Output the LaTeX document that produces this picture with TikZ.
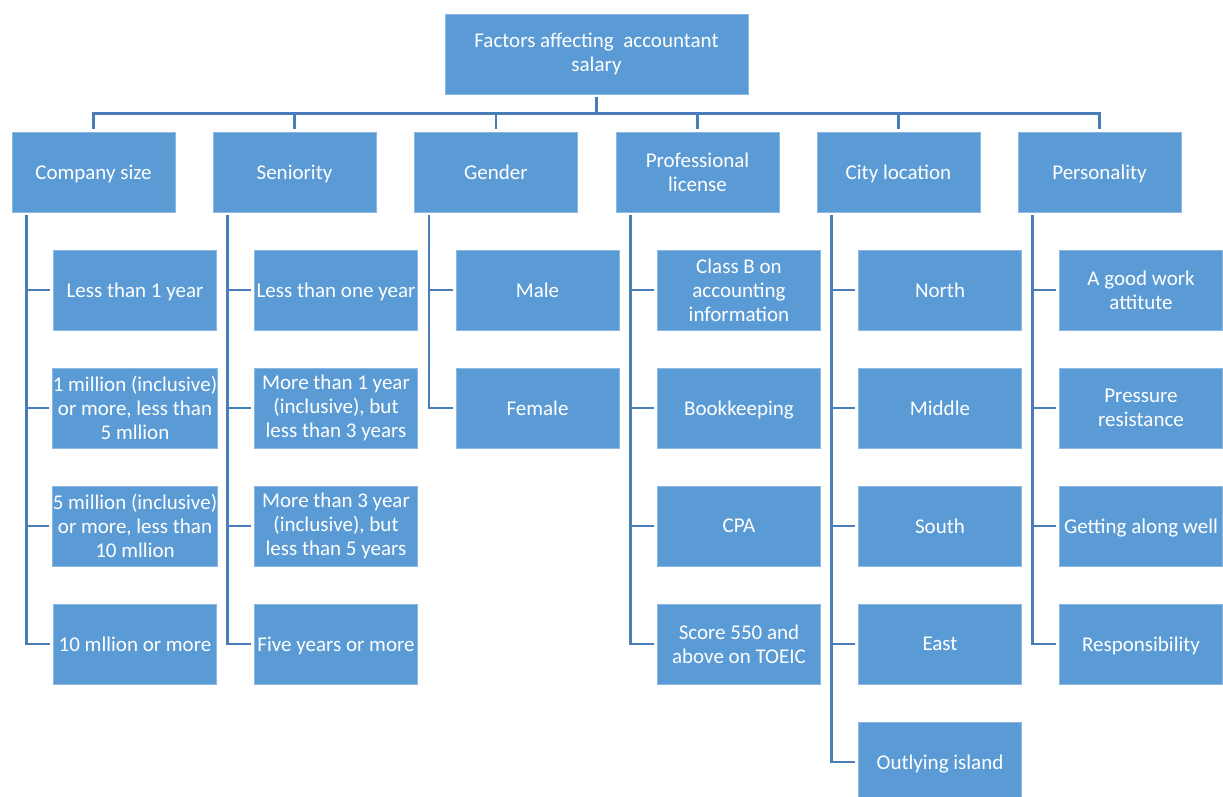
\documentclass[tikz,border=0pt]{standalone}
\usepackage{fontspec}
\setmainfont{Carlito}
\definecolor{boxfill}{HTML}{5B9BD5}
\definecolor{boxline}{HTML}{8DB8E2}
\definecolor{connc}{HTML}{4A7EBB}
\begin{document}
\begin{tikzpicture}[x=1pt,y=-1pt,
  box/.style={rectangle,fill=boxfill,draw=boxline,line width=0.8pt,minimum width=163pt,minimum height=80pt,inner sep=0pt,align=center,text=white,font=\fontsize{21}{24}\selectfont},
  one/.style={box,text depth=0pt},
  conn/.style={draw=connc,line width=2.6pt}]
\useasboundingbox (0,0) rectangle (1223,796);
\node[box,minimum width=303pt] (root) at (596.5,54) {Factors affecting\ \ accountant\\salary};
% level 1
\node[one] (c1) at (93.5,172) {Company size};
\node[one] (c2) at (294.5,172) {Seniority};
\node[one] (c3) at (496,172) {Gender};
\node[box] (c4) at (697.5,172) {Professional\\license};
\node[one] (c5) at (898.5,172) {City location};
\node[one] (c6) at (1099.5,172) {Personality};
% company size
\node[one] (c1a) at (135,290) {Less than 1 year};
\node[box] (c1b) at (135,408) {1 million (inclusive)\\or more, less than\\5 mllion};
\node[box] (c1c) at (135,526) {5 million (inclusive)\\or more, less than\\10 mllion};
\node[one] (c1d) at (135,644) {10 mllion or more};
% seniority
\node[one] (c2a) at (336,290) {Less than one year};
\node[box] (c2b) at (336,408) {More than 1 year\\(inclusive), but\\less than 3 years};
\node[box] (c2c) at (336,526) {More than 3 year\\(inclusive), but\\less than 5 years};
\node[one] (c2d) at (336,644) {Five years or more};
% gender
\node[one] (c3a) at (537.5,290) {Male};
\node[one] (c3b) at (537.5,408) {Female};
% professional license
\node[box] (c4a) at (739,290) {Class B on\\accounting\\information};
\node[one] (c4b) at (739,408) {Bookkeeping};
\node[one] (c4c) at (739,526) {CPA};
\node[box] (c4d) at (739,644) {Score 550 and\\above on TOEIC};
% city
\node[one] (c5a) at (940,290) {North};
\node[one] (c5b) at (940,408) {Middle};
\node[one] (c5c) at (940,526) {South};
\node[one] (c5d) at (940,644) {East};
\node[one] (c5e) at (940,762) {Outlying island};
% personality
\node[box] (c6a) at (1141,290) {A good work\\attitute};
\node[box] (c6b) at (1141,408) {Pressure\\resistance};
\node[one] (c6c) at (1141,526) {Getting along well};
\node[one] (c6d) at (1141,644) {Responsibility};
% root to level 1
\coordinate (bus) at ([yshift=-19pt]root.south);
\draw[conn] ([yshift=-3pt]root.south) -- (bus);
\foreach \c in {c1,c2,c3,c4,c5,c6}{
  \draw[conn] (bus) -| ([yshift=3pt]\c.north);
}
% level 1 to children
\foreach \p/\kids in {c1/{c1a,c1b,c1c,c1d},c2/{c2a,c2b,c2c,c2d},c3/{c3a,c3b},c4/{c4a,c4b,c4c,c4d},c5/{c5a,c5b,c5c,c5d,c5e},c6/{c6a,c6b,c6c,c6d}}{
  \foreach \k in \kids{
    \draw[conn] ([xshift=15pt,yshift=-3pt]\p.south west) |- ([xshift=-3pt]\k.west);
  }
}
\end{tikzpicture}
\end{document}
